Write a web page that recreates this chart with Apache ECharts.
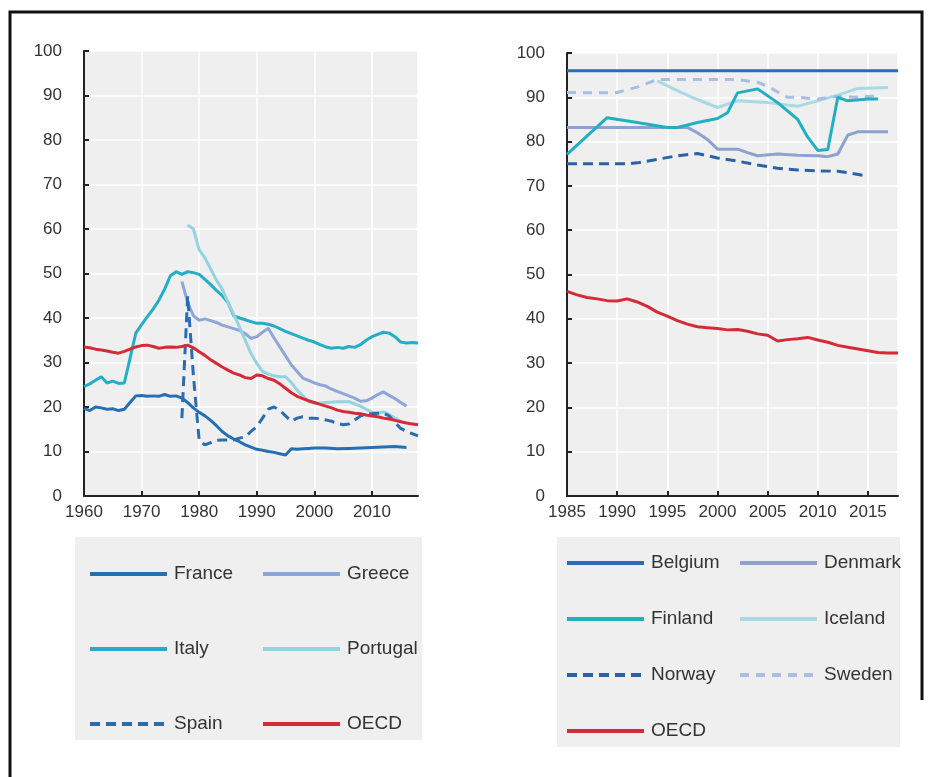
<!DOCTYPE html>
<html>
<head>
<meta charset="utf-8">
<script src="https://cdn.jsdelivr.net/npm/echarts@6/dist/echarts.min.js"></script>
<style>
  html, body { margin: 0; padding: 0; background: #fff; }
  #chart { width: 934px; height: 777px; }
</style>
</head>
<body>
<div id="chart"></div>
<script>
// left panel, 1960-2018
const france = [[1960,19.7],[1961,19.2],[1962,20],[1963,19.8],[1964,19.5],[1965,19.6],[1966,19.2],[1967,19.5],[1968,21],[1969,22.5],[1970,22.6],[1971,22.4],[1972,22.5],[1973,22.4],[1974,22.8],[1975,22.4],[1976,22.5],[1977,22],[1978,21],[1979,19.8],[1980,18.8],[1981,18],[1982,17],[1983,15.8],[1984,14.5],[1985,13.5],[1986,12.8],[1987,12.2],[1988,11.5],[1989,11],[1990,10.5],[1991,10.3],[1992,10],[1993,9.8],[1994,9.5],[1995,9.2],[1996,10.6],[1997,10.5],[1998,10.6],[1999,10.7],[2000,10.8],[2002,10.8],[2004,10.6],[2006,10.7],[2008,10.8],[2010,10.9],[2012,11],[2014,11.1],[2016,10.9]];
const italy = [[1960,24.6],[1961,25.2],[1962,26],[1963,26.8],[1964,25.4],[1965,25.8],[1966,25.3],[1967,25.4],[1968,31],[1969,36.6],[1970,38.5],[1971,40.3],[1972,42],[1973,44],[1974,46.5],[1975,49.5],[1976,50.4],[1977,49.8],[1978,50.4],[1979,50.2],[1980,49.8],[1981,48.7],[1982,47.5],[1983,46.2],[1984,45],[1985,43.5],[1986,40.5],[1987,40],[1988,39.6],[1989,39.2],[1990,38.8],[1991,38.8],[1992,38.6],[1993,38.2],[1994,37.6],[1995,37],[1996,36.5],[1997,36],[1998,35.5],[1999,35],[2000,34.6],[2001,34],[2002,33.5],[2003,33.2],[2004,33.4],[2005,33.2],[2006,33.6],[2007,33.4],[2008,34],[2009,35],[2010,35.8],[2011,36.3],[2012,36.8],[2013,36.6],[2014,35.8],[2015,34.6],[2016,34.4],[2017,34.5],[2018,34.4]];
const greece = [[1977,48.2],[1978,43.5],[1979,40.5],[1980,39.5],[1981,39.8],[1982,39.4],[1983,39],[1984,38.4],[1985,38],[1986,37.6],[1987,37.2],[1988,36.5],[1989,35.4],[1990,35.8],[1991,36.8],[1992,37.7],[1993,35.5],[1994,33.5],[1995,31.5],[1996,29.5],[1997,28],[1998,26.5],[1999,26],[2000,25.4],[2001,25],[2002,24.7],[2003,24],[2004,23.5],[2005,23],[2006,22.5],[2007,22],[2008,21.3],[2009,21.4],[2010,22],[2011,22.8],[2012,23.4],[2013,22.6],[2014,21.9],[2015,21],[2016,20.2]];
const portugal = [[1978,60.9],[1979,60],[1980,55.3],[1981,53.5],[1982,51],[1983,48.5],[1984,46.5],[1985,43.5],[1986,40.8],[1987,38],[1988,35],[1989,32],[1990,29.8],[1991,28],[1992,27.4],[1993,27],[1994,26.8],[1995,26.8],[1996,25.5],[1997,23.8],[1998,22.5],[1999,21.2],[2000,20.8],[2002,21],[2004,21.2],[2006,21.2],[2008,20.2],[2009,19.5],[2010,18.8],[2011,18.6],[2012,18.9],[2013,18.3],[2014,17.5],[2015,16.8]];
const spain = [[1977,17.5],[1978,45],[1979,27],[1980,12.5],[1981,11.5],[1982,12],[1983,12.5],[1984,12.6],[1985,12.6],[1986,12.6],[1987,13],[1988,13.3],[1989,14.5],[1990,15.6],[1991,17.5],[1992,19.5],[1993,20],[1994,19.3],[1995,18],[1996,16.8],[1997,17.5],[1998,17.8],[1999,17.5],[2000,17.5],[2001,17.3],[2002,17.1],[2003,16.8],[2004,16.3],[2005,16],[2006,16.2],[2007,17.1],[2008,18],[2009,18.3],[2010,18.5],[2011,18.6],[2012,18.6],[2013,18],[2014,16.5],[2015,15.2],[2016,14.5],[2017,14],[2018,13.5]];
const oecdLeft = [[1960,33.5],[1961,33.3],[1962,33],[1963,32.8],[1964,32.6],[1965,32.3],[1966,32.1],[1967,32.5],[1968,33],[1969,33.5],[1970,33.8],[1971,33.9],[1972,33.6],[1973,33.2],[1974,33.4],[1975,33.5],[1976,33.4],[1977,33.6],[1978,33.9],[1979,33.3],[1980,32.4],[1981,31.6],[1982,30.6],[1983,29.8],[1984,29],[1985,28.3],[1986,27.6],[1987,27.2],[1988,26.6],[1989,26.4],[1990,27.2],[1991,27],[1992,26.4],[1993,26],[1994,25.2],[1995,24.2],[1996,23.2],[1997,22.4],[1998,21.9],[1999,21.4],[2000,21],[2001,20.6],[2002,20.2],[2003,19.8],[2004,19.3],[2005,19],[2006,18.8],[2007,18.6],[2008,18.5],[2009,18.2],[2010,18],[2011,17.8],[2012,17.5],[2013,17.3],[2014,17],[2015,16.7],[2016,16.4],[2017,16.2],[2018,16]];

// right panel, 1985-2018
const belgium = [[1985,96],[1990,96],[1995,96],[2000,96],[2005,96],[2010,96],[2015,96],[2018,96]];
const denmark = [[1985,83.2],[1990,83.2],[1994,83.2],[1997,83.2],[1998,82],[1999,80.5],[2000,78.3],[2002,78.3],[2003,77.5],[2004,76.8],[2006,77.2],[2008,76.9],[2010,76.8],[2011,76.6],[2012,77.2],[2013,81.5],[2014,82.2],[2016,82.2],[2017,82.2]];
const finland = [[1985,77.1],[1989,85.4],[1992,84.3],[1995,83.2],[1996,83.2],[1998,84.3],[2000,85.2],[2001,86.5],[2002,91],[2004,91.9],[2006,88.8],[2008,85],[2009,81],[2010,78],[2011,78.2],[2012,90],[2013,89.2],[2015,89.6],[2016,89.6]];
const iceland = [[1994,93.7],[1996,91.5],[1998,89.5],[2000,87.7],[2002,89.2],[2005,88.8],[2008,88],[2010,89.2],[2012,90.5],[2014,92],[2017,92.2]];
const norway = [[1985,75],[1988,75],[1991,75],[1992,75.2],[1994,76],[1996,76.8],[1998,77.3],[2000,76.3],[2002,75.6],[2004,74.7],[2006,74],[2008,73.6],[2010,73.4],[2012,73.3],[2013,73],[2015,72.2]];
const sweden = [[1985,91.1],[1988,91],[1990,91.1],[1992,92.3],[1994,94],[1996,94],[1998,94],[2000,94],[2002,94],[2004,93.4],[2005,92.5],[2006,91.2],[2007,90],[2008,90],[2010,89.6],[2012,90.2],[2014,90],[2016,90.4]];
const oecdRight = [[1985,46.2],[1986,45.4],[1987,44.8],[1988,44.5],[1989,44.1],[1990,44],[1991,44.5],[1992,43.8],[1993,42.8],[1994,41.5],[1995,40.6],[1996,39.6],[1997,38.8],[1998,38.2],[1999,38],[2000,37.8],[2001,37.5],[2002,37.6],[2003,37.2],[2004,36.6],[2005,36.3],[2006,35],[2007,35.3],[2008,35.5],[2009,35.8],[2010,35.2],[2011,34.7],[2012,34],[2013,33.6],[2014,33.2],[2015,32.8],[2016,32.4],[2017,32.3],[2018,32.3]];

const chart = echarts.init(document.getElementById('chart'));
const font = "'Liberation Sans', Arial, sans-serif";
const txt = '#333';

const yAxisBase = (grid) => ({
  type: 'value', gridIndex: grid, min: 0, max: 100, interval: 10,
  axisLine: { show: true, lineStyle: { color: '#222', width: 2 } },
  axisTick: { show: true, inside: true, length: 5, lineStyle: { color: '#222', width: 2 } },
  axisLabel: { color: txt, fontSize: 17, fontFamily: font, margin: 22 },
  splitLine: { lineStyle: { color: '#fff', width: 1.5 } }
});
const xAxisBase = (grid, min, max, interval) => ({
  type: 'value', gridIndex: grid, min: min, max: max, interval: interval,
  axisLine: { show: true, onZero: false, lineStyle: { color: '#222', width: 2 } },
  axisTick: { show: true, inside: true, length: 5, lineStyle: { color: '#222', width: 2 } },
  axisLabel: { color: txt, fontSize: 17, fontFamily: font, margin: 8, showMaxLabel: false,
    formatter: (v) => String(v) },
  splitLine: { show: true, lineStyle: { color: '#fff', width: 1.5 } }
});

const line = (name, data, color, idx, extra) => Object.assign({
  name: name, type: 'line', data: data, xAxisIndex: idx, yAxisIndex: idx,
  symbol: 'none', silent: true,
  lineStyle: { color: color, width: 3 },
  itemStyle: { color: color }
}, extra || {});

// legend icons: line only, hide the symbol echarts adds
const legendBase = (items, left, top, gap) => ({
  data: items, orient: 'vertical', left: left, top: top, padding: 0,
  itemWidth: 77, itemHeight: 20, itemGap: gap,
  selectedMode: false,
  lineStyle: { width: 4 },
  itemStyle: { color: 'rgba(0,0,0,0)', borderWidth: 0, opacity: 0 },
  textStyle: { color: txt, fontSize: 19, fontFamily: font, lineHeight: 20, padding: [0, 0, 0, 2] }
});

const option = {
  animation: false,
  grid: [
    { left: 84, top: 51, width: 334, height: 445, show: true, backgroundColor: '#efefef', borderWidth: 0 },
    { left: 567, top: 53, width: 331, height: 443, show: true, backgroundColor: '#efefef', borderWidth: 0 }
  ],
  xAxis: [xAxisBase(0, 1960, 2018, 10), xAxisBase(1, 1985, 2018, 5)],
  yAxis: [yAxisBase(0), yAxisBase(1)],
  legend: [
    legendBase(['France', 'Italy', 'Spain'], 88, 564, 55),
    legendBase(['Greece', 'Portugal', 'OECD'], 261, 564, 55),
    legendBase(['Belgium', 'Finland', 'Norway', 'OECD'], 565, 553, 36),
    legendBase(['Denmark', 'Iceland', 'Sweden'], 738, 553, 36)
  ],
  graphic: [
    { type: 'rect', z: -10, shape: { x: 75, y: 537, width: 347, height: 203 }, style: { fill: '#efefef' } },
    { type: 'rect', z: -10, shape: { x: 557, y: 537, width: 343, height: 210 }, style: { fill: '#efefef' } },
    { type: 'polyline', shape: { points: [[10, 777], [10, 12], [922, 12], [922, 700]] }, style: { stroke: '#111', lineWidth: 3, fill: null } }
  ],
  series: [
    line('France', france, '#2470b3', 0),
    line('Greece', greece, '#8fa7d7', 0),
    line('Italy', italy, '#22afc5', 0),
    line('Portugal', portugal, '#94d3df', 0),
    line('Spain', spain, '#2a6cae', 0, { lineStyle: { color: '#2a6cae', width: 3, type: [10, 6] } }),
    line('OECD', oecdLeft, '#d52a37', 0),
    line('Belgium', belgium, '#2a6db0', 1),
    line('Denmark', denmark, '#8ea2cf', 1),
    line('Iceland', iceland, '#a9dae4', 1),
    line('Sweden', sweden, '#a7bfe4', 1, { lineStyle: { color: '#a7bfe4', width: 3, type: [9, 7] } }),
    line('Norway', norway, '#2a62a6', 1, { lineStyle: { color: '#2a62a6', width: 3, type: [10, 6] } }),
    line('Finland', finland, '#20b0c0', 1),
    line('OECD', oecdRight, '#d52a37', 1)
  ]
};

chart.setOption(option);
window.addEventListener('resize', () => chart.resize());
</script>
</body>
</html>
